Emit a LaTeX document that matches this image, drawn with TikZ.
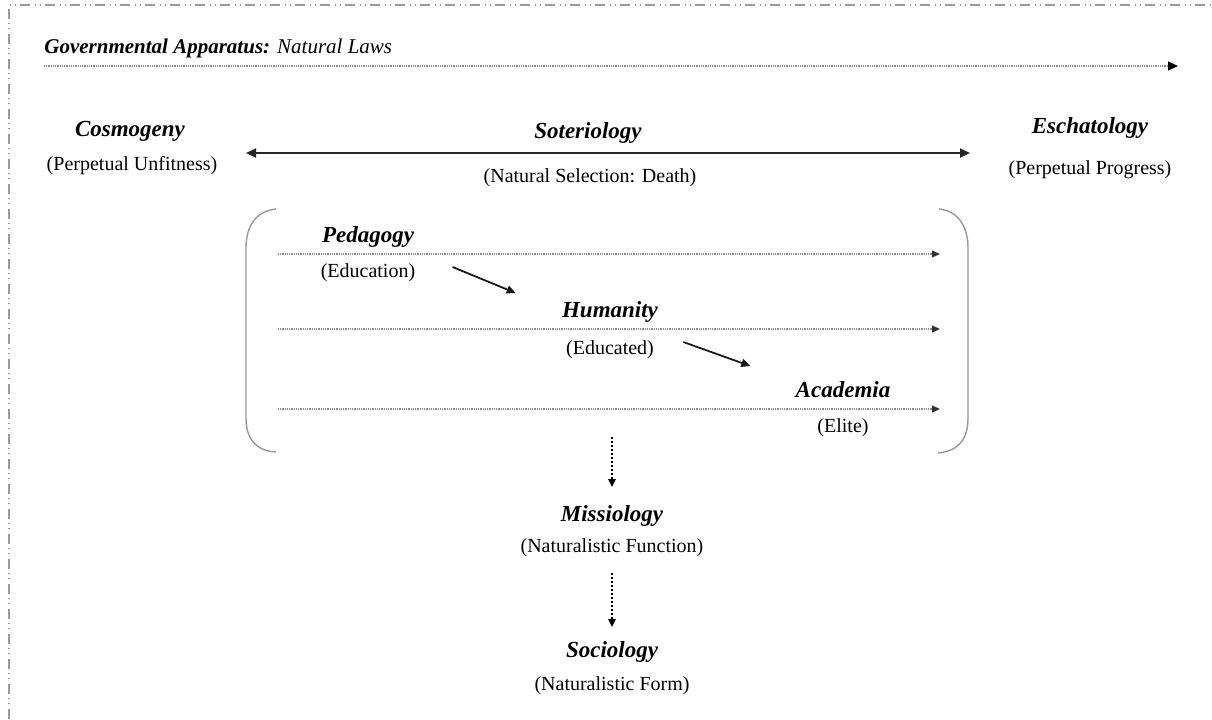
\documentclass[tikz,border=0pt]{standalone}
\usepackage{fontspec}
\setmainfont{Liberation Serif}
\usetikzlibrary{positioning,arrows.meta}

\begin{document}
\begin{tikzpicture}[
  x=0.5pt, y=-0.5pt, >=Stealth,
  title/.style={font=\fontsize{11.5}{13}\selectfont\bfseries\itshape,inner sep=1pt},
  sub/.style={font=\fontsize{10}{12}\selectfont,inner sep=1pt},
  frame/.style={gray!80,line width=1pt,dash pattern=on 5pt off 2.5pt on 0.5pt off 2pt on 0.5pt off 2pt},
  law/.style={gray!90,line width=0.55pt,dash pattern=on 0.5pt off 0.4pt,-{Triangle[length=5pt,width=4.5pt,black]}},
  lane/.style={gray!90,line width=0.55pt,dash pattern=on 0.5pt off 0.4pt,-{Triangle[length=4pt,width=3.5pt,black!80]}},
  span/.style={black!85,line width=1pt,{Triangle[length=5pt,width=4.5pt]}-{Triangle[length=5pt,width=4.5pt]}},
  stepto/.style={black!90,line width=0.9pt,-{Triangle[length=4.5pt,width=4pt]}},
  flow/.style={black,line width=1.4pt,dash pattern=on 1pt off 1pt,-{Triangle[length=4pt,width=3.5pt]}},
  brack/.style={gray!80,line width=0.7pt}
]
\useasboundingbox (0,0) rectangle (1212,719);
\draw[frame] (9,719) -- (9,5) -- (1212,5);

% natural laws
\node[anchor=west,inner sep=0pt,font=\fontsize{10.5}{12}\selectfont] (gov) at (44,48)
  {\textbf{\textit{Governmental Apparatus:}} \textit{Natural Laws}};
\coordinate (lawend) at (1178,66);
\draw[law] (gov.west |- lawend) -- (lawend);

% top row
\node[title] (cosmo) at (130,131) {Cosmogeny};
\node[sub] (unfit) at (132,166) {(Perpetual Unfitness)};
\node[title] (soter) at (588,133) {Soteriology};
\node[sub] (death) at (590,178) {(Natural Selection: Death)};
\node[title] (escha) at (1090,128) {Eschatology};
\node[sub] (progr) at (1090,170) {(Perpetual Progress)};
\coordinate (sl) at (246,153);
\coordinate (sr) at (970,153);
\draw[span] (sl) -- (sr);

% brackets
\draw[brack] (276,209) .. controls (256,211) and (246,226) .. (246,248) -- (246,418)
  .. controls (246,440) and (257,451) .. (276,452);
\draw[brack] (939,209) .. controls (958,211) and (968,226) .. (968,248) -- (968,418)
  .. controls (968,440) and (958,451) .. (938,453);

% lanes
\node[title] (peda) at (368,237) {Pedagogy};
\node[sub] (educ) at (368,273) {(Education)};
\node[title] (huma) at (610,312) {Humanity};
\node[sub] (edud) at (610,350) {(Educated)};
\node[title] (acad) at (843,390) {Academia};
\node[sub] (elite) at (843,428) {(Elite)};
\coordinate (p0) at (278,254); \coordinate (p1) at (940,254);
\coordinate (h0) at (278,329); \coordinate (h1) at (940,329);
\coordinate (a0) at (278,409); \coordinate (a1) at (940,409);
\draw[lane] (p0) -- (p1);
\draw[lane] (h0) -- (h1);
\draw[lane] (a0) -- (a1);
\draw[stepto] ([xshift=17.5pt,yshift=3pt]educ.east) -- ([xshift=-22pt,yshift=9.5pt]huma.west);
\draw[stepto] ([xshift=13.5pt,yshift=4pt]edud.east) -- ([xshift=-21.5pt,yshift=12pt]acad.west);

% below
\node[title] (miss) at (612,516) {Missiology};
\node[sub] (nfun) at (612,548) {(Naturalistic Function)};
\node[title] (soc) at (612,652) {Sociology};
\node[sub] (nform) at (612,686) {(Naturalistic Form)};
\coordinate (bbot) at (612,437);
\draw[flow] (bbot) -- ([yshift=8pt]miss.north);
\draw[flow] ([yshift=-7pt]nfun.south) -- ([yshift=6pt]soc.north);
\end{tikzpicture}
\end{document}
